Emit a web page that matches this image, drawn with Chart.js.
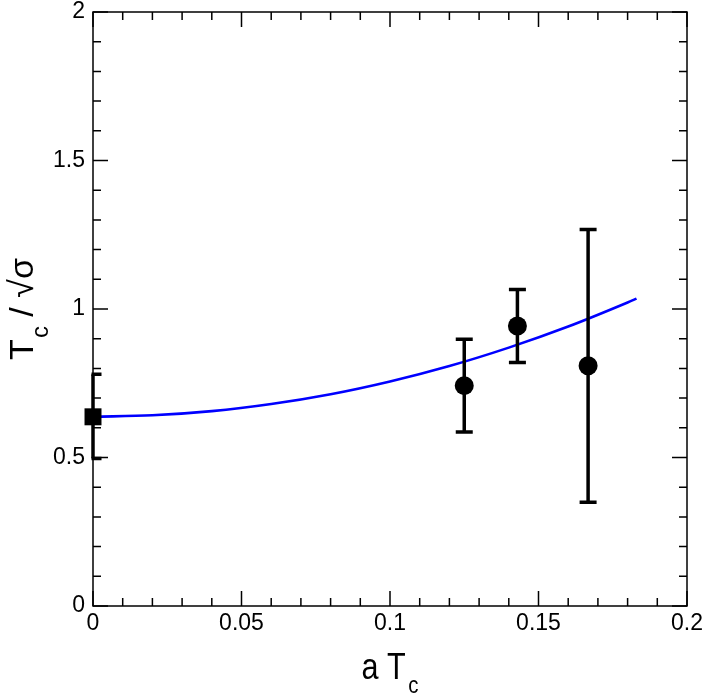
<!DOCTYPE html>
<html>
<head>
<meta charset="utf-8">
<script src="https://cdn.jsdelivr.net/npm/chart.js@4.4.1/dist/chart.umd.min.js"></script>
<style>
  html, body { margin: 0; padding: 0; background: #fff; }
  #wrap { width: 706px; height: 697px; position: relative; }
</style>
</head>
<body>
<div id="wrap"><canvas id="c"></canvas></div>
<script>
// ---- data ----
const xTickValues = [0, 0.05, 0.1, 0.15, 0.2];
const yTickValues = [0, 0.5, 1, 1.5, 2];

const latticeX = [0.125, 0.1429, 0.1667];
const latticeY = [0.742, 0.943, 0.809];
const latticeLow = [0.586, 0.820, 0.349];
const latticeHigh = [0.898, 1.066, 1.268];

const contX = [0];
const contY = [0.637];
const contLow = [0.497];
const contHigh = [0.780];

const fitX = [0, 0.02, 0.04, 0.06, 0.08, 0.10, 0.12, 0.14, 0.16, 0.18, 0.183];
const fitY = [0.637, 0.642, 0.656, 0.680, 0.713, 0.756, 0.808, 0.870, 0.941, 1.022, 1.035];

const toPts = (xs, ys) => xs.map((x, i) => ({ x: x, y: ys[i] }));

const FONT = "'Liberation Sans', Arial, Helvetica, sans-serif";

// error bars drawn right before each point dataset
const errorBars = {
  id: 'errorBars',
  beforeDatasetDraw(chart, args) {
    const ds = chart.data.datasets[args.index];
    if (!ds.errLow) return;
    const ctx = chart.ctx, xs = chart.scales.x, ys = chart.scales.y, a = chart.chartArea;
    ctx.save();
    ctx.strokeStyle = '#000';
    ctx.lineWidth = 3.5;
    ctx.lineCap = 'butt';
    ds.data.forEach((p, i) => {
      const px = xs.getPixelForValue(p.x);
      const lo = ys.getPixelForValue(ds.errLow[i]);
      const hi = ys.getPixelForValue(ds.errHigh[i]);
      ctx.beginPath();
      ctx.moveTo(px, lo); ctx.lineTo(px, hi);
      ctx.stroke();
      ctx.save();
      ctx.beginPath();
      ctx.rect(a.left - 1.5, a.top - 5, a.right - a.left + 3, a.bottom - a.top + 10);
      ctx.clip();
      ctx.beginPath();
      ctx.moveTo(px - 8.5, lo); ctx.lineTo(px + 8.5, lo);
      ctx.moveTo(px - 8.5, hi); ctx.lineTo(px + 8.5, hi);
      ctx.stroke();
      ctx.restore();
    });
    ctx.restore();
  }
};

// frame, inward ticks on all sides, axis titles
const frame = {
  id: 'frame',
  afterDraw(chart) {
    const ctx = chart.ctx, a = chart.chartArea, xs = chart.scales.x, ys = chart.scales.y;
    ctx.save();
    ctx.strokeStyle = '#000';
    ctx.lineWidth = 1.5;
    ctx.strokeRect(a.left, a.top, a.right - a.left, a.bottom - a.top);
    ctx.beginPath();
    const xMin = xs.min, xMax = xs.max, yMin = ys.min, yMax = ys.max;
    const xStep = xTickValues[1] - xTickValues[0];
    const yStep = yTickValues[1] - yTickValues[0];
    for (let i = 0; i <= Math.round((xMax - xMin) / (xStep / 5)); i++) {
      const v = xMin + i * xStep / 5;
      const len = (i % 5 === 0) ? 15 : 8;
      const px = xs.getPixelForValue(v);
      ctx.moveTo(px, a.bottom); ctx.lineTo(px, a.bottom - len);
      ctx.moveTo(px, a.top); ctx.lineTo(px, a.top + len);
    }
    for (let i = 0; i <= Math.round((yMax - yMin) / (yStep / 5)); i++) {
      const v = yMin + i * yStep / 5;
      const len = (i % 5 === 0) ? 15 : 8;
      const py = ys.getPixelForValue(v);
      ctx.moveTo(a.left, py); ctx.lineTo(a.left + len, py);
      ctx.moveTo(a.right, py); ctx.lineTo(a.right - len, py);
    }
    ctx.stroke();

    ctx.fillStyle = '#000';
    ctx.textBaseline = 'alphabetic';
    // x title: "a T" + subscript c
    {
      const big = '36px ' + FONT, small = '24px ' + FONT;
      const sx = 0.85;
      ctx.font = big; const w1 = ctx.measureText('a T').width;
      ctx.font = small; const w2 = ctx.measureText('c').width;
      const gap = 3;
      const total = (w1 + gap + w2) * sx;
      const cx = (a.left + a.right) / 2;
      ctx.save();
      ctx.translate(cx - total / 2, 679);
      ctx.scale(sx, 1);
      ctx.textAlign = 'left';
      ctx.font = big; ctx.fillText('a T', 0, 0);
      ctx.font = small; ctx.fillText('c', w1 + gap, 13.5);
      ctx.restore();
    }
    // y title: "T" + subscript c + " / √σ", rotated
    {
      const big = '34px ' + FONT, small = '24px ' + FONT;
      ctx.font = big; const w1 = ctx.measureText('T').width; const w3 = ctx.measureText(' / √σ').width;
      ctx.font = small; const w2 = ctx.measureText('c').width;
      const gap = 1;
      const total = w1 + gap + w2 + w3;
      const cy = (a.top + a.bottom) / 2;
      ctx.save();
      ctx.translate(33, cy);
      ctx.rotate(-Math.PI / 2);
      ctx.textAlign = 'left';
      let x0 = -total / 2;
      ctx.font = big; ctx.fillText('T', x0, 0);
      ctx.font = small; ctx.fillText('c', x0 + w1 + gap, 15);
      ctx.font = big; ctx.fillText(' / √σ', x0 + w1 + gap + w2, 0);
      ctx.restore();
    }
    ctx.restore();
  }
};

new Chart(document.getElementById('c'), {
  type: 'scatter',
  data: {
    datasets: [
      {
        label: 'continuum',
        data: toPts(contX, contY),
        errLow: contLow, errHigh: contHigh,
        pointStyle: 'rect', pointRadius: 12, pointHoverRadius: 12,
        backgroundColor: '#000', borderColor: '#000', borderWidth: 0,
        clip: false
      },
      {
        label: 'lattice',
        data: toPts(latticeX, latticeY),
        errLow: latticeLow, errHigh: latticeHigh,
        pointStyle: 'circle', pointRadius: 9.5, pointHoverRadius: 9.5,
        backgroundColor: '#000', borderColor: '#000', borderWidth: 0
      },
      {
        label: 'fit',
        type: 'line',
        data: toPts(fitX, fitY),
        showLine: true,
        borderColor: '#0000ff', borderWidth: 2.6,
        pointRadius: 0, pointHoverRadius: 0,
        cubicInterpolationMode: 'monotone',
        fill: false
      }
    ]
  },
  options: {
    responsive: true,
    maintainAspectRatio: false,
    animation: false,
    events: [],
    layout: { padding: { left: 0, right: 19, top: 11, bottom: 0 } },
    plugins: { legend: { display: false }, tooltip: { enabled: false } },
    scales: {
      x: {
        type: 'linear', min: 0, max: 0.2,
        afterBuildTicks: s => { s.ticks = xTickValues.map(v => ({ value: v })); },
        afterFit: s => { s.height = 91; s.paddingLeft = 0; s.paddingRight = 0; },
        grid: { display: false, drawTicks: false },
        border: { display: false },
        ticks: { color: '#000', font: { family: FONT, size: 23, lineHeight: 1 }, padding: 6, maxRotation: 0,
                 callback: v => String(v) }
      },
      y: {
        type: 'linear', min: 0, max: 2,
        afterBuildTicks: s => { s.ticks = yTickValues.map(v => ({ value: v })); },
        afterFit: s => { s.width = 93; s.paddingTop = 0; s.paddingBottom = 0; },
        grid: { display: false, drawTicks: false },
        border: { display: false },
        ticks: { color: '#000', font: { family: FONT, size: 23, lineHeight: 1 }, padding: 8,
                 callback: v => String(v) }
      }
    }
  },
  plugins: [errorBars, frame]
});
</script>
</body>
</html>
